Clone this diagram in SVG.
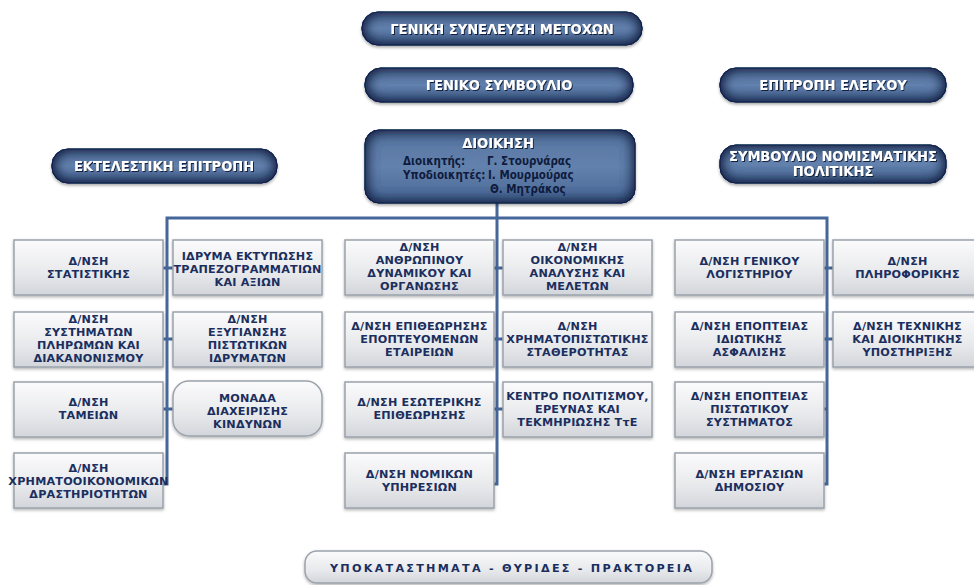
<svg xmlns="http://www.w3.org/2000/svg" width="974" height="585" viewBox="0 0 974 585">
<defs>
<linearGradient id="navy" x1="0" y1="0" x2="0" y2="1">
<stop offset="0" stop-color="#56749f"/>
<stop offset="0.5" stop-color="#6381ad"/>
<stop offset="1" stop-color="#4a6794"/>
</linearGradient>
<linearGradient id="gray" x1="0" y1="0" x2="0" y2="1">
<stop offset="0" stop-color="#fbfbfc"/>
<stop offset="0.6" stop-color="#e8e9ec"/>
<stop offset="1" stop-color="#d2d5da"/>
</linearGradient>
<filter id="sh" x="-10%" y="-20%" width="120%" height="150%">
<feDropShadow dx="0" dy="1.5" stdDeviation="1.5" flood-color="#000" flood-opacity="0.3"/>
</filter>
<filter id="pillf" x="-10%" y="-30%" width="120%" height="170%">
<feFlood flood-color="#132348" result="c"/>
<feComposite in="c" in2="SourceAlpha" operator="out" result="o"/>
<feGaussianBlur in="o" stdDeviation="7" result="b"/>
<feComposite in="b" in2="SourceAlpha" operator="in" result="ig"/>
<feGaussianBlur in="SourceAlpha" stdDeviation="1.5" result="sb"/>
<feOffset in="sb" dy="1.5" result="so"/>
<feFlood flood-color="#000" flood-opacity="0.35"/>
<feComposite in2="so" operator="in" result="shadow"/>
<feMerge><feMergeNode in="shadow"/><feMergeNode in="SourceGraphic"/><feMergeNode in="ig"/><feMergeNode in="ig"/><feMergeNode in="ig"/></feMerge>
</filter>
<filter id="tsh" x="-5%" y="-30%" width="110%" height="170%">
<feDropShadow dx="1" dy="1" stdDeviation="0.6" flood-color="#0b1630" flood-opacity="0.9"/>
</filter>
</defs>
<style>
.pill{fill:url(#navy);stroke:#1d3159;stroke-width:1;filter:url(#pillf)}
.box{fill:url(#gray);stroke:#9ba2ab;stroke-width:1.5;filter:url(#sh)}
.pt{font-family:"DejaVu Sans Condensed","DejaVu Sans",sans-serif;font-stretch:condensed;font-weight:bold;font-size:14.5px;fill:#ffffff;text-anchor:middle;filter:url(#tsh)}
.bt{font-family:"DejaVu Sans",sans-serif;font-weight:bold;font-size:11.2px;letter-spacing:0.2px;fill:#1b2f5e;text-anchor:middle}
.dt{font-family:"DejaVu Sans Condensed","DejaVu Sans",sans-serif;font-stretch:condensed;font-weight:bold;font-size:11.5px;fill:#0f1b3c}
.conn{fill:none;stroke:#46679a;stroke-width:3}
</style>

<g id="connectors" class="conn">
<path d="M497,203 V484 H493"/>
<path d="M162,484 H167 V218 H827 V484 H823"/>
<path d="M163,268 H173 M163,339 H173 M163,409 H173"/>
<path d="M493,268 H503 M493,339 H503 M493,409 H503"/>
<path d="M823,268 H833 M823,339 H833 M823,409 H827"/>
</g>

<g id="gensyn"><rect class="pill" x="362" y="12" width="280" height="33" rx="16"/><text class="pt" x="502" y="34">ΓΕΝΙΚΗ ΣΥΝΕΛΕΥΣΗ ΜΕΤΟΧΩΝ</text></g>
<g id="gensymv"><rect class="pill" x="365" y="68" width="268" height="34" rx="16"/><text class="pt" x="499" y="90">ΓΕΝΙΚΟ ΣΥΜΒΟΥΛΙΟ</text></g>
<g id="epelegx"><rect class="pill" x="720" y="68" width="226" height="34" rx="16"/><text class="pt" x="833" y="90">ΕΠΙΤΡΟΠΗ ΕΛΕΓΧΟΥ</text></g>
<g id="ektel"><rect class="pill" x="52" y="149" width="225" height="34" rx="16"/><text class="pt" x="164" y="171">ΕΚΤΕΛΕΣΤΙΚΗ ΕΠΙΤΡΟΠΗ</text></g>
<g id="nomism"><rect class="pill" x="720" y="145" width="226" height="38" rx="16"/><text class="pt" x="833" y="161">ΣΥΜΒΟΥΛΙΟ ΝΟΜΙΣΜΑΤΙΚΗΣ</text><text class="pt" x="833" y="176">ΠΟΛΙΤΙΚΗΣ</text></g>
<g id="dioikisi"><rect class="pill" x="365" y="130" width="270" height="73" rx="14"/><text class="pt" x="498" y="148">ΔΙΟΙΚΗΣΗ</text>
<text class="dt" x="403" y="165">Διοικητής:</text><text class="dt" x="487" y="165">Γ. Στουρνάρας</text>
<text class="dt" x="403" y="179">Υποδιοικητές:</text><text class="dt" x="488" y="179">Ι. Μουρμούρας</text>
<text class="dt" x="490" y="193">Θ. Μητράκος</text></g>

<g id="statistikis"><rect class="box" x="14" y="240" width="149" height="55"/><text class="bt" x="88.5" y="265">Δ/ΝΣΗ</text><text class="bt" x="88.5" y="278">ΣΤΑΤΙΣΤΙΚΗΣ</text></g>
<g id="idryma"><rect class="box" x="173" y="240" width="149" height="55"/><text class="bt" x="247.5" y="260">ΙΔΡΥΜΑ ΕΚΤΥΠΩΣΗΣ</text><text class="bt" x="247.5" y="273">ΤΡΑΠΕΖΟΓΡΑΜΜΑΤΙΩΝ</text><text class="bt" x="247.5" y="286">ΚΑΙ ΑΞΙΩΝ</text></g>
<g id="systimaton"><rect class="box" x="14" y="312" width="149" height="55"/><text class="bt" x="88.5" y="323">Δ/ΝΣΗ</text><text class="bt" x="88.5" y="336">ΣΥΣΤΗΜΑΤΩΝ</text><text class="bt" x="88.5" y="349">ΠΛΗΡΩΜΩΝ ΚΑΙ</text><text class="bt" x="88.5" y="362">ΔΙΑΚΑΝΟΝΙΣΜΟΥ</text></g>
<g id="exygiansis"><rect class="box" x="173" y="312" width="149" height="55"/><text class="bt" x="247.5" y="323">Δ/ΝΣΗ</text><text class="bt" x="247.5" y="336">ΕΞΥΓΙΑΝΣΗΣ</text><text class="bt" x="247.5" y="349">ΠΙΣΤΩΤΙΚΩΝ</text><text class="bt" x="247.5" y="362">ΙΔΡΥΜΑΤΩΝ</text></g>
<g id="tameion"><rect class="box" x="14" y="382" width="149" height="55"/><text class="bt" x="88.5" y="406">Δ/ΝΣΗ</text><text class="bt" x="88.5" y="419">ΤΑΜΕΙΩΝ</text></g>
<g id="monada"><rect class="box" x="173" y="381" width="149" height="55" rx="16"/><text class="bt" x="247.5" y="402">ΜΟΝΑΔΑ</text><text class="bt" x="247.5" y="415">ΔΙΑΧΕΙΡΙΣΗΣ</text><text class="bt" x="247.5" y="428">ΚΙΝΔΥΝΩΝ</text></g>
<g id="xrimatooik"><rect class="box" x="14" y="453" width="149" height="55"/><text class="bt" x="88.5" y="472">Δ/ΝΣΗ</text><text class="bt" x="88.5" y="485">ΧΡΗΜΑΤΟΟΙΚΟΝΟΜΙΚΩΝ</text><text class="bt" x="88.5" y="498">ΔΡΑΣΤΗΡΙΟΤΗΤΩΝ</text></g>

<g id="anthropinou"><rect class="box" x="345" y="240" width="149" height="55"/><text class="bt" x="419.5" y="251">Δ/ΝΣΗ</text><text class="bt" x="419.5" y="264">ΑΝΘΡΩΠΙΝΟΥ</text><text class="bt" x="419.5" y="277">ΔΥΝΑΜΙΚΟΥ ΚΑΙ</text><text class="bt" x="419.5" y="290">ΟΡΓΑΝΩΣΗΣ</text></g>
<g id="oikonomikis"><rect class="box" x="503" y="240" width="149" height="55"/><text class="bt" x="577.5" y="251">Δ/ΝΣΗ</text><text class="bt" x="577.5" y="264">ΟΙΚΟΝΟΜΙΚΗΣ</text><text class="bt" x="577.5" y="277">ΑΝΑΛΥΣΗΣ ΚΑΙ</text><text class="bt" x="577.5" y="290">ΜΕΛΕΤΩΝ</text></g>
<g id="epitheorisis"><rect class="box" x="345" y="312" width="149" height="55"/><text class="bt" x="419.5" y="330">Δ/ΝΣΗ ΕΠΙΘΕΩΡΗΣΗΣ</text><text class="bt" x="419.5" y="343">ΕΠΟΠΤΕΥΟΜΕΝΩΝ</text><text class="bt" x="419.5" y="356">ΕΤΑΙΡΕΙΩΝ</text></g>
<g id="xrimatopist"><rect class="box" x="503" y="312" width="149" height="55"/><text class="bt" x="577.5" y="330">Δ/ΝΣΗ</text><text class="bt" x="577.5" y="343">ΧΡΗΜΑΤΟΠΙΣΤΩΤΙΚΗΣ</text><text class="bt" x="577.5" y="356">ΣΤΑΘΕΡΟΤΗΤΑΣ</text></g>
<g id="esoterikis"><rect class="box" x="345" y="382" width="149" height="55"/><text class="bt" x="419.5" y="406">Δ/ΝΣΗ ΕΣΩΤΕΡΙΚΗΣ</text><text class="bt" x="419.5" y="419">ΕΠΙΘΕΩΡΗΣΗΣ</text></g>
<g id="kentro"><rect class="box" x="503" y="382" width="149" height="55"/><text class="bt" x="577.5" y="400">ΚΕΝΤΡΟ ΠΟΛΙΤΙΣΜΟΥ,</text><text class="bt" x="577.5" y="413">ΕΡΕΥΝΑΣ ΚΑΙ</text><text class="bt" x="577.5" y="426">ΤΕΚΜΗΡΙΩΣΗΣ ΤτΕ</text></g>
<g id="nomikon"><rect class="box" x="345" y="453" width="149" height="55"/><text class="bt" x="419.5" y="478">Δ/ΝΣΗ ΝΟΜΙΚΩΝ</text><text class="bt" x="419.5" y="491">ΥΠΗΡΕΣΙΩΝ</text></g>

<g id="logistiriou"><rect class="box" x="675" y="240" width="149" height="55"/><text class="bt" x="749.5" y="265">Δ/ΝΣΗ ΓΕΝΙΚΟΥ</text><text class="bt" x="749.5" y="278">ΛΟΓΙΣΤΗΡΙΟΥ</text></g>
<g id="pliroforikis"><rect class="box" x="833" y="240" width="149" height="55"/><text class="bt" x="907.5" y="265">Δ/ΝΣΗ</text><text class="bt" x="907.5" y="278">ΠΛΗΡΟΦΟΡΙΚΗΣ</text></g>
<g id="asfalisis"><rect class="box" x="675" y="312" width="149" height="55"/><text class="bt" x="749.5" y="330">Δ/ΝΣΗ ΕΠΟΠΤΕΙΑΣ</text><text class="bt" x="749.5" y="343">ΙΔΙΩΤΙΚΗΣ</text><text class="bt" x="749.5" y="356">ΑΣΦΑΛΙΣΗΣ</text></g>
<g id="texnikis"><rect class="box" x="833" y="312" width="149" height="55"/><text class="bt" x="907.5" y="330">Δ/ΝΣΗ ΤΕΧΝΙΚΗΣ</text><text class="bt" x="907.5" y="343">ΚΑΙ ΔΙΟΙΚΗΤΙΚΗΣ</text><text class="bt" x="907.5" y="356">ΥΠΟΣΤΗΡΙΞΗΣ</text></g>
<g id="pistotikou"><rect class="box" x="675" y="382" width="149" height="55"/><text class="bt" x="749.5" y="400">Δ/ΝΣΗ ΕΠΟΠΤΕΙΑΣ</text><text class="bt" x="749.5" y="413">ΠΙΣΤΩΤΙΚΟΥ</text><text class="bt" x="749.5" y="426">ΣΥΣΤΗΜΑΤΟΣ</text></g>
<g id="dimosiou"><rect class="box" x="675" y="453" width="149" height="55"/><text class="bt" x="749.5" y="478">Δ/ΝΣΗ ΕΡΓΑΣΙΩΝ</text><text class="bt" x="749.5" y="491">ΔΗΜΟΣΙΟΥ</text></g>

<g id="ypokatastimata"><rect class="box" x="305" y="551" width="407" height="32" rx="12"/><text class="bt" x="511" y="572" font-size="13" textLength="362">ΥΠΟΚΑΤΑΣΤΗΜΑΤΑ - ΘΥΡΙΔΕΣ - ΠΡΑΚΤΟΡΕΙΑ</text></g>
</svg>
